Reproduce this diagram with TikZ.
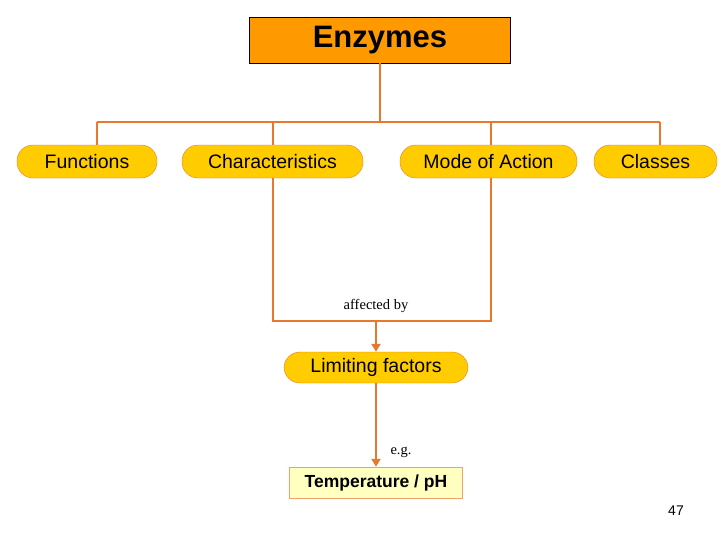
\documentclass[tikz,border=0pt]{standalone}
\usepackage{fontspec}
\setmainfont{Liberation Sans}
\newfontfamily\serifont{Liberation Serif}
\usetikzlibrary{arrows.meta}
\definecolor{lnc}{HTML}{E8782E}
\definecolor{titlef}{HTML}{FF9900}
\definecolor{pillf}{HTML}{FFCC00}
\definecolor{tempf}{HTML}{FFFFC0}
\begin{document}
\begin{tikzpicture}[x=1pt,y=-1pt,
  pill/.style={draw=lnc!80!orange,fill=pillf,rounded corners=16pt,minimum height=33pt,inner sep=0pt,font=\fontsize{19.5}{22}\selectfont},
  conn/.style={draw=lnc,line width=2.5pt},
  arr/.style={conn,-{Triangle[length=8pt,width=9pt]}}]
\useasboundingbox (0,0) rectangle (728,546);
\fill[white] (0,0) rectangle (728,546);
\node[draw=black,fill=titlef,minimum width=261pt,minimum height=46pt,font=\bfseries\fontsize{31}{34}\selectfont] (enz) at (380,40) {Enzymes};
\node[pill,minimum width=140pt] (fun) at (87,161.5) {Functions};
\node[pill,minimum width=181pt] (cha) at (272.5,161.5) {Characteristics};
\node[pill,minimum width=177pt] (mod) at (488.5,161.5) {Mode of Action};
\node[pill,minimum width=123pt] (cla) at (655.5,161.5) {Classes};
\node[pill,minimum width=184pt,minimum height=31pt] (lim) at (376,367.5) {Limiting factors};
\node[draw=lnc!70,fill=tempf,minimum width=173pt,minimum height=31pt,font=\bfseries\fontsize{17.5}{20}\selectfont] (tmp) at (376,482.5) {Temperature / pH};
\coordinate (hub) at (380,122);
\coordinate (mid) at (376,321);
\draw[conn] (enz.south) -- (hub);
\draw[conn] (97,122) -- (660,122);
\draw[conn] (97,122) -- (97,145);
\draw[conn] (273,122) -- (273,145);
\draw[conn] (491,122) -- (491,145);
\draw[conn] (660,122) -- (660,145);
\draw[conn] (273,178) -- (273,321) -- (491,321) -- (491,178);
\draw[arr] (mid) -- (lim.north);
\draw[arr] (lim.south) -- (tmp.north);
\node[font=\serifont\fontsize{14.5}{16}\selectfont] (aff) at (376,306) {affected by};
\node[font=\serifont\fontsize{14.5}{16}\selectfont] (eg) at (401,452) {e.g.};
\node[font=\fontsize{14}{16}\selectfont] (pg) at (676,511) {47};
\end{tikzpicture}
\end{document}
